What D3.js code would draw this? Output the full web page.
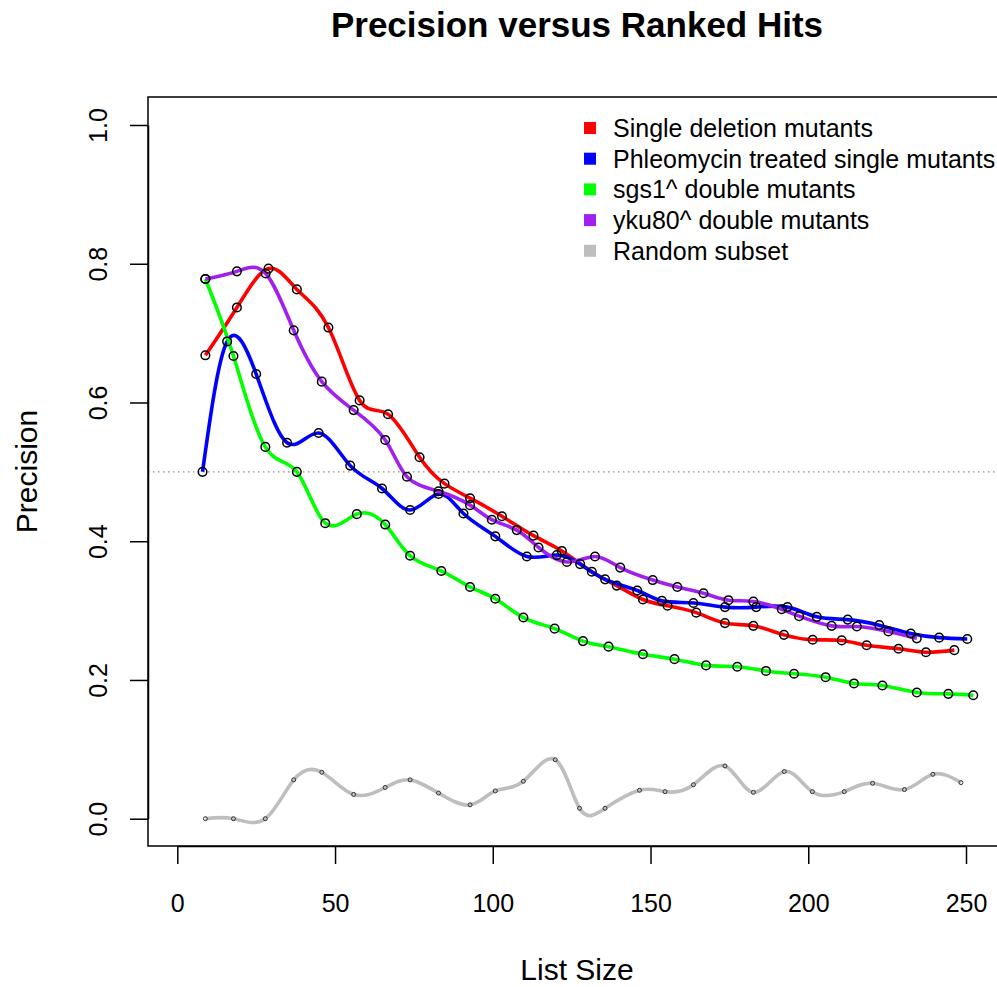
<!DOCTYPE html>
<html>
<head>
<meta charset="utf-8">
<script src="https://cdn.jsdelivr.net/npm/d3@7"></script>
<style>
  body { margin: 0; background: #fff; }
  text { font-family: "Liberation Sans", Arial, sans-serif; }
</style>
</head>
<body>
<svg id="chart" width="997" height="987"></svg>
<script>
// values
const seriesNames = ["Single deletion mutants", "Phleomycin treated single mutants",
  "sgs1^ double mutants", "yku80^ double mutants", "Random subset"];
const seriesColors = ["#ff0000", "#0000ff", "#00ff00", "#a020f0", "#bebebe"];

const singleX = [8.9, 18.9, 28.9, 37.9, 47.9, 57.8, 66.8, 76.8, 84.7, 92.8, 102.9, 112.9, 121.9, 131.4,
  139.3, 147.6, 155.4, 164.5, 173.6, 182.6, 192.3, 201.4, 210.6, 218.5, 228.6, 237.3, 246.3];
const singleY = [0.668, 0.737, 0.793, 0.763, 0.708, 0.603, 0.583, 0.521, 0.483, 0.462, 0.436, 0.408, 0.386, 0.356,
  0.336, 0.316, 0.307, 0.297, 0.282, 0.278, 0.265, 0.258, 0.257, 0.250, 0.245, 0.240, 0.243];

const phleoX = [8.0, 15.8, 25.0, 34.8, 44.8, 54.8, 64.9, 73.8, 82.8, 90.7, 100.8, 110.8, 120.3, 127.7,
  135.6, 145.8, 153.6, 163.6, 173.6, 183.5, 193.4, 202.7, 212.5, 222.5, 232.5, 241.5, 250.4];
const phleoY = [0.500, 0.688, 0.641, 0.542, 0.556, 0.509, 0.476, 0.445, 0.468, 0.440, 0.407, 0.378, 0.380, 0.367,
  0.345, 0.329, 0.314, 0.311, 0.305, 0.305, 0.305, 0.291, 0.287, 0.279, 0.267, 0.261, 0.259];

const sgs1X = [8.9, 17.8, 27.9, 37.9, 46.9, 56.9, 65.9, 73.8, 83.7, 92.8, 100.8, 109.7, 119.6, 128.6,
  136.7, 147.6, 157.6, 167.6, 177.5, 186.6, 195.5, 205.5, 214.5, 223.5, 234.4, 244.4, 252.3];
const sgs1Y = [0.778, 0.667, 0.536, 0.500, 0.426, 0.439, 0.424, 0.379, 0.357, 0.334, 0.317, 0.290, 0.274, 0.256,
  0.248, 0.237, 0.230, 0.221, 0.219, 0.213, 0.209, 0.204, 0.195, 0.192, 0.182, 0.180, 0.178];

const yku80X = [8.9, 18.9, 28.0, 36.9, 45.8, 55.9, 65.9, 72.8, 82.8, 92.8, 99.7, 107.6, 114.5, 123.5,
  132.4, 140.4, 150.7, 158.5, 166.8, 174.7, 182.6, 191.6, 197.1, 207.4, 215.4, 225.4, 234.4];
const yku80Y = [0.778, 0.789, 0.786, 0.704, 0.630, 0.589, 0.546, 0.493, 0.472, 0.452, 0.431, 0.416, 0.391, 0.370,
  0.378, 0.362, 0.344, 0.334, 0.325, 0.315, 0.313, 0.302, 0.292, 0.278, 0.277, 0.270, 0.260];

const randomX = [8.9, 17.8, 27.9, 36.9, 45.8, 55.9, 65.9, 73.8, 82.8, 92.8, 100.8, 109.7, 119.8, 127.5,
  135.6, 146.5, 154.6, 163.6, 173.6, 182.6, 192.4, 201.3, 211.4, 220.4, 230.5, 239.5, 248.4];
const randomY = [0.000, 0.000, 0.000, 0.056, 0.067, 0.035, 0.045, 0.056, 0.037, 0.020, 0.040, 0.054, 0.085, 0.015,
  0.015, 0.041, 0.039, 0.049, 0.076, 0.038, 0.068, 0.039, 0.039, 0.051, 0.042, 0.064, 0.052];

const xTicks = [0, 50, 100, 150, 200, 250];
const yTicks = [0, 0.2, 0.4, 0.6, 0.8, 1.0];
const cutoff = 0.5;

const allX = [singleX, phleoX, sgs1X, yku80X, randomX];
const allY = [singleY, phleoY, sgs1Y, yku80Y, randomY];

const svg = d3.select("#chart");
const box = {left: 148, top: 97, right: 1006, bottom: 846};

const x = d3.scaleLinear().domain([0, 250]).range([177.3, 966]);
const y = d3.scaleLinear().domain([0, 1]).range([818.7, 125]);

svg.append("rect").attr("width", 997).attr("height", 987).attr("fill", "#fff");

// cutoff line
svg.append("line")
  .attr("x1", box.left).attr("x2", box.right)
  .attr("y1", y(cutoff)).attr("y2", y(cutoff))
  .attr("stroke", "#8c8c8c").attr("stroke-width", 1.2)
  .attr("stroke-dasharray", "1.5,3.5");

// lines
const line = d3.line()
  .curve(d3.curveNatural)
  .x(d => x(d[0]))
  .y(d => y(d[1]));

const order = [0, 1, 2, 3, 4];
order.forEach(i => {
  const pts = allX[i].map((v, j) => [v, allY[i][j]]);
  svg.append("path")
    .datum(pts)
    .attr("d", line)
    .attr("fill", "none")
    .attr("stroke", seriesColors[i])
    .attr("stroke-width", 3.6)
    .attr("stroke-linejoin", "round");
});

// points
order.forEach(i => {
  const pts = allX[i].map((v, j) => [v, allY[i][j]]);
  const small = i === 4;
  svg.append("g").selectAll("circle")
    .data(pts)
    .enter().append("circle")
    .attr("cx", d => x(d[0]))
    .attr("cy", d => y(d[1]))
    .attr("r", small ? 2 : 4.3)
    .attr("fill", "none")
    .attr("stroke", small ? "#333" : "#000")
    .attr("stroke-width", small ? 1 : 1.5);
});

// box
svg.append("rect")
  .attr("x", box.left).attr("y", box.top)
  .attr("width", box.right - box.left).attr("height", box.bottom - box.top)
  .attr("fill", "none").attr("stroke", "#000").attr("stroke-width", 1.5);

// axes
const xAxis = svg.append("g")
  .attr("transform", "translate(0," + box.bottom + ")")
  .call(d3.axisBottom(x).tickValues(xTicks).tickSize(18).tickSizeOuter(0).tickFormat(d3.format("d")));
xAxis.selectAll("text")
  .attr("y", 66).attr("dy", null)
  .attr("font-size", 25).attr("fill", "#000");

const yAxis = svg.append("g")
  .attr("transform", "translate(" + box.left + ",0)")
  .call(d3.axisLeft(y).tickValues(yTicks).tickSize(18).tickSizeOuter(0).tickFormat(d3.format(".1f")));
yAxis.selectAll("text")
  .attr("x", 0).attr("y", 0).attr("dy", null)
  .attr("text-anchor", "middle")
  .attr("transform", "translate(-41,0) rotate(-90)")
  .attr("font-size", 25).attr("fill", "#000");

svg.selectAll(".domain").attr("stroke-width", 1.5);
svg.selectAll(".tick line").attr("stroke-width", 1.5);

// titles
svg.append("text")
  .attr("x", 577).attr("y", 37)
  .attr("text-anchor", "middle")
  .attr("font-size", 35).attr("font-weight", "bold")
  .text("Precision versus Ranked Hits");

svg.append("text")
  .attr("x", 577).attr("y", 980)
  .attr("text-anchor", "middle")
  .attr("font-size", 30)
  .text("List Size");

svg.append("text")
  .attr("transform", "translate(37,471.5) rotate(-90)")
  .attr("text-anchor", "middle")
  .attr("font-size", 30)
  .text("Precision");

// legend
const legend = svg.append("g").attr("transform", "translate(583,128)");
seriesNames.forEach((name, i) => {
  const row = legend.append("g").attr("transform", "translate(0," + (i * 30.7) + ")");
  row.append("rect")
    .attr("x", 1).attr("y", -6).attr("width", 12).attr("height", 12)
    .attr("fill", seriesColors[i]);
  row.append("text")
    .attr("x", 30).attr("y", 9)
    .attr("font-size", 25)
    .text(name);
});
</script>
</body>
</html>
